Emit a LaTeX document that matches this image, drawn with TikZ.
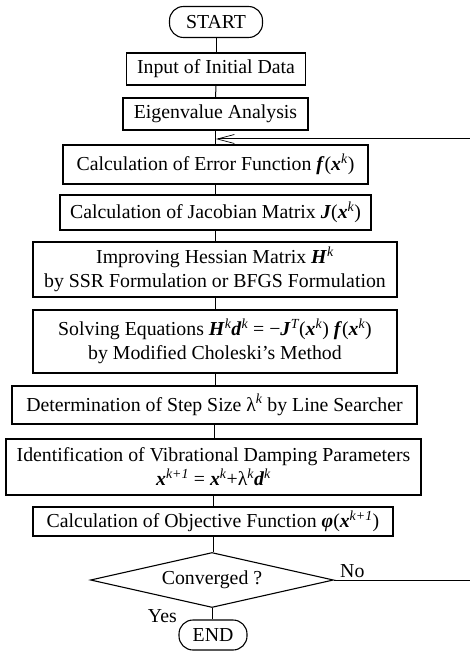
\documentclass[tikz,border=0pt]{standalone}
\usepackage{fontspec}
\setmainfont{Liberation Serif}
\usetikzlibrary{shapes.geometric,arrows.meta}
\newcommand{\bi}[1]{\textbf{\textit{#1}}}
\newcommand{\sk}[1]{\textsuperscript{\itshape #1}}
\begin{document}
\begin{tikzpicture}[x=1pt,y=-1pt,
  base/.style={font=\fontsize{19.8}{24}\selectfont, line width=1.1pt, inner sep=0pt, align=center},
  procbox/.style={base, draw, rectangle},
  termbox/.style={base, draw, rounded corners=14pt},
  decbox/.style={base, draw, diamond, aspect=4.4},
  conn/.style={line width=1pt},
  lbl/.style={font=\fontsize{19.8}{24}\selectfont, inner sep=0pt}]
\useasboundingbox (0,0) rectangle (470,652);
\clip (0,0) rectangle (470,652);
\node[termbox, minimum width=93pt, minimum height=31pt] (start) at (216,22) {START};
\node[procbox, minimum width=179pt, minimum height=32pt] (input) at (216,69) {Input of Initial Data};
\node[procbox, minimum width=185pt, minimum height=32pt] (eig) at (215.5,114) {Eigenvalue Analysis};
\node[procbox, minimum width=305pt, minimum height=39pt] (err) at (215.5,164.5) {Calculation of Error Function \bi{f}(\bi{x}\sk{k})};
\node[procbox, minimum width=311pt, minimum height=35pt] (jac) at (215.5,212.5) {Calculation of Jacobian Matrix \bi{J}(\bi{x}\sk{k})};
\node[procbox, minimum width=364pt, minimum height=55pt] (hes) at (215,269.5) {Improving Hessian Matrix \bi{H}\sk{k}\\by SSR Formulation or BFGS Formulation};
\node[procbox, minimum width=364pt, minimum height=63pt] (sol) at (215,341.5) {Solving Equations \bi{H}\sk{k}\bi{d}\sk{k} = −\bi{J}\sk{T}(\bi{x}\sk{k}) \bi{f}(\bi{x}\sk{k})\\by Modified Choleski’s Method};
\node[procbox, minimum width=405pt, minimum height=38pt] (step) at (214.5,405) {Determination of Step Size λ\sk{k} by Line Searcher};
\node[procbox, minimum width=415pt, minimum height=56pt] (ident) at (213.5,467) {Identification of Vibrational Damping Parameters\\\bi{x}\sk{k+1} = \bi{x}\sk{k}+λ\sk{k}\bi{d}\sk{k}};
\node[procbox, minimum width=360pt, minimum height=29pt] (obj) at (213,521.5) {Calculation of Objective Function \bi{φ}(\bi{x}\sk{k+1})};
\node[decbox, minimum width=243pt, minimum height=55pt] (conv) at (212,580) {Converged ?};
\node[termbox, minimum width=68pt, minimum height=30pt] (end) at (213,635) {END};
\node[lbl, anchor=south west] (no) at (340,578) {No};
\node[lbl, anchor=north east] (yes) at (177,609) {Yes};
\coordinate (fbx) at (472,580);
\coordinate (fbtop) at (472,139);
\coordinate (join) at (216,139);
\draw[conn] (start) -- (input);
\draw[conn] (input) -- (eig);
\draw[conn] (eig.south) -- (eig.south |- err.north);
\draw[conn] (err.south) -- (err.south |- jac.north);
\draw[conn] (jac.south) -- (jac.south |- hes.north);
\draw[conn] (hes.south) -- (hes.south |- sol.north);
\draw[conn] (sol.south) -- (sol.south |- step.north);
\draw[conn] (step.south) -- (step.south |- ident.north);
\draw[conn] (ident.south) -- (ident.south |- obj.north);
\draw[conn] (obj.south) -- (obj.south |- conv.north);
\draw[conn] (conv.south) -- (conv.south |- end.north);
\draw[conn, -{Straight Barb[length=17pt,width=9pt,line width=0.7pt]}] (conv.east) -- (fbx) -- (fbtop) -- (join);
\end{tikzpicture}
\end{document}
